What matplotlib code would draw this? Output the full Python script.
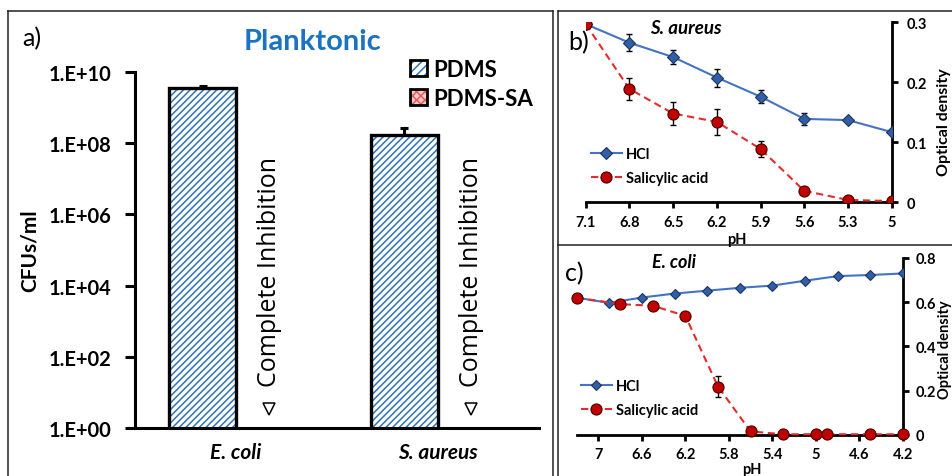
import numpy as np
import matplotlib
matplotlib.use('Agg')
import matplotlib.pyplot as plt
from matplotlib.lines import Line2D
from matplotlib.patches import Patch
from matplotlib.legend_handler import HandlerTuple

plt.rcParams['font.family'] = ['Lato', 'DejaVu Sans']
plt.rcParams['hatch.linewidth'] = 1.1

# panel a: planktonic counts (log scale)
species = ['E. coli', 'S. aureus']
pdms = [3.42e9, 1.71e8]
pdms_err = [0.43e9, 0.86e8]
pdms_sa = [0, 0]
inhib_marker = [3.5, 3.5]
a_ticks = [1e0, 1e2, 1e4, 1e6, 1e8, 1e10]
a_ticklabels = ['1.E+00', '1.E+02', '1.E+04', '1.E+06', '1.E+08', '1.E+10']

# panel b: S. aureus optical density vs pH
ph_b = ['7.1', '6.8', '6.5', '6.2', '5.9', '5.6', '5.3', '5']
hcl_b = [0.297, 0.266, 0.242, 0.208, 0.176, 0.139, 0.137, 0.117]
hcl_b_err = [0.0, 0.014, 0.012, 0.015, 0.011, 0.010, 0.003, 0.002]
sal_b = [0.297, 0.189, 0.148, 0.134, 0.089, 0.019, 0.004, 0.002]
sal_b_err = [0.0, 0.018, 0.019, 0.021, 0.013, 0.003, 0.002, 0.001]

# panel c: E. coli optical density vs pH
ph_c_hcl = [7.2, 6.9, 6.6, 6.3, 6.0, 5.7, 5.4, 5.1, 4.8, 4.5, 4.2]
hcl_c = [0.620, 0.597, 0.621, 0.639, 0.652, 0.665, 0.675, 0.697, 0.718, 0.723, 0.730]
ph_c_sal = [7.2, 6.8, 6.5, 6.2, 5.9, 5.6, 5.3, 5.0, 4.9, 4.5, 4.2]
sal_c = [0.620, 0.591, 0.584, 0.538, 0.218, 0.015, 0.002, 0.002, 0.002, 0.002, 0.002]
sal_c_err = [0, 0, 0, 0, 0.046, 0, 0, 0, 0, 0, 0]
c_ticks = [7, 6.6, 6.2, 5.8, 5.4, 5, 4.6, 4.2]
c_ticklabels = ['7', '6.6', '6.2', '5.8', '5.4', '5', '4.6', '4.2']

W, H = 952, 477
blue_hatch = '#2e75b6'
title_blue = '#1a73c2'
line_blue = '#4472c4'
dia_face = '#2f5fa8'
dia_edge = '#1f3559'
red_line = '#e52b2b'
red_face = '#c00000'
red_edge = '#4a0000'


def fx(px):
    return px / W


def fy(py):
    return 1 - py / H


fig = plt.figure(figsize=(W / 100, H / 100), dpi=100)

# panel frames
for xs, ys in [([8, 8], [477, 12]), ([8, 553], [12, 12]), ([553, 553], [12, 477]),
               ([558, 558], [477, 12]), ([558, 952], [12, 12]), ([558, 952], [246, 246])]:
    fig.add_artist(Line2D([fx(v) for v in xs], [fy(v) for v in ys],
                          transform=fig.transFigure, color='#222222', lw=1.1))

# ---------------- panel a ----------------
ax_w = 538.6 - 135
ax = fig.add_axes([fx(135), fy(429.2), ax_w / W, (429.2 - 72.7) / H])
ax.set_yscale('log')
x = np.arange(len(species))
w = 0.331

ax.bar(x - w / 2, pdms, w, color='white', edgecolor=blue_hatch, hatch='/////', lw=0, zorder=2)
ax.bar(x - w / 2, pdms, w, fill=False, edgecolor='black', lw=2.4, zorder=3)
ax.bar(x + w / 2, pdms_sa, w, color='#f4c4c4', lw=0, zorder=2)
ax.errorbar(x - w / 2, pdms, yerr=[[0, 0], pdms_err], fmt='none', ecolor='black',
            elinewidth=2.2, capsize=3, capthick=2.2, zorder=4)
ax.plot(x + w / 2, inhib_marker, 'v', ls='none', mfc='white', mec='black', ms=8, mew=1.1)
for xi in x:
    ax.text(xi + w / 2, 15, 'Complete Inhibition', rotation=90, ha='center', va='bottom',
            fontsize=18, family=['Open Sans', 'DejaVu Sans'])

ax.set_xlim(-0.5, 1.5)
ax.set_ylim(1, 1e10)
ax.set_yticks(a_ticks)
ax.set_yticklabels(a_ticklabels, fontsize=14.5, fontweight='bold')
ax.yaxis.set_minor_locator(plt.NullLocator())
ax.set_xticks(x)
ax.set_xticklabels(species, fontsize=15, fontweight='bold', style='italic')
ax.tick_params(axis='y', direction='out', length=7, width=2.2, pad=10)
ax.tick_params(axis='x', length=0, pad=10)
for s in ['top', 'right']:
    ax.spines[s].set_visible(False)
for s in ['left', 'bottom']:
    ax.spines[s].set_linewidth(2.2)
ax.set_ylabel('CFUs/ml', fontsize=15, fontweight='bold')
ax.yaxis.set_label_coords((40 - 135) / ax_w, 0.5)

h1 = (Patch(facecolor='white', edgecolor=blue_hatch, hatch='////', lw=0),
      Patch(fill=False, edgecolor='black', lw=2))
h2 = (Patch(facecolor='#f6c8c8', edgecolor='#e06060', hatch='xxxx', lw=0),
      Patch(fill=False, edgecolor='black', lw=2))
ax.legend([h1, h2], ['PDMS', 'PDMS-SA'], handler_map={tuple: HandlerTuple(ndivide=1, pad=0)},
          loc='upper left', bbox_to_anchor=(fx(410), fy(60)), bbox_transform=fig.transFigure,
          frameon=False, prop={'weight': 'bold', 'size': 16},
          handlelength=0.75, handleheight=0.75, handletextpad=0.3, labelspacing=0.35,
          borderpad=0, borderaxespad=0)

fig.text(fx(32), fy(39), 'a)', fontsize=18, ha='center', va='center')
fig.text(fx(312), fy(42.5), 'Planktonic', fontsize=21, fontweight='bold',
         color=title_blue, ha='center', va='center')


def style_od(axis, ypad):
    for s in ['top', 'left']:
        axis.spines[s].set_visible(False)
    for s in ['bottom', 'right']:
        axis.spines[s].set_linewidth(2)
    axis.yaxis.tick_right()
    axis.tick_params(axis='both', direction='out', length=4, width=2, labelsize=10.5)
    axis.tick_params(axis='y', pad=ypad)
    axis.tick_params(axis='x', pad=5)
    for lab in axis.get_xticklabels() + axis.get_yticklabels():
        lab.set_fontweight('bold')


# ---------------- panel b ----------------
bx = fig.add_axes([fx(585.7), fy(203.3), 306 / W, 180 / H])
xb = np.arange(len(ph_b))
bx.plot(xb, hcl_b, '-', color=line_blue, lw=1.5, marker='D', ms=6,
        mfc=dia_face, mec=dia_edge, mew=0.8, label='HCl', zorder=3)
bx.errorbar(xb, hcl_b, yerr=hcl_b_err, fmt='none', ecolor='black', elinewidth=1,
            capsize=2.5, capthick=1, zorder=2)
bx.plot(xb, sal_b, '--', color=red_line, lw=1.5, dashes=(3.5, 2.2), marker='o', ms=8,
        mfc=red_face, mec=red_edge, mew=0.8, label='Salicylic acid', zorder=5)
bx.errorbar(xb, sal_b, yerr=sal_b_err, fmt='none', ecolor='black', elinewidth=1,
            capsize=2.5, capthick=1, zorder=4)
bx.set_xlim(0, 7)
bx.set_ylim(0, 0.3)
bx.set_xticks(xb)
bx.set_xticklabels(ph_b)
bx.set_yticks([0, 0.1, 0.2, 0.3])
bx.set_yticklabels(['0', '0.1', '0.2', '0.3'])
style_od(bx, 7)
bx.legend(loc='upper left', bbox_to_anchor=(fx(591), fy(148)), bbox_transform=fig.transFigure,
          frameon=False, prop={'weight': 'bold', 'size': 10.5}, handlelength=2.1,
          handletextpad=0.3, labelspacing=0.7, borderpad=0, borderaxespad=0)
fig.text(fx(737), fy(240), 'pH', fontsize=10.5, fontweight='bold', ha='center', va='center')
fig.text(fx(944), fy(122.5), 'Optical density', fontsize=11.5, fontweight='bold',
         rotation=90, ha='center', va='center')
fig.text(fx(686), fy(29), 'S. aureus', fontsize=13.5, fontweight='bold', style='italic',
         ha='center', va='center')
fig.text(fx(579), fy(43), 'b)', fontsize=18, ha='center', va='center')

# ---------------- panel c ----------------
cx = fig.add_axes([fx(576.7), fy(435.7), 326 / W, 176.7 / H])
cx.plot(ph_c_hcl, hcl_c, '-', color=line_blue, lw=1.5, marker='D', ms=5.5,
        mfc=dia_face, mec=dia_edge, mew=0.8, label='HCl', zorder=3)
cx.plot(ph_c_sal, sal_c, '--', color=red_line, lw=1.5, dashes=(3.5, 2.2), marker='o', ms=8,
        mfc=red_face, mec=red_edge, mew=0.8, label='Salicylic acid', zorder=5, clip_on=False)
cx.errorbar(ph_c_sal, sal_c, yerr=sal_c_err, fmt='none', ecolor='black', elinewidth=1,
            capsize=2.5, capthick=1, zorder=4)
cx.set_xlim(7.2, 4.2)
cx.set_ylim(0, 0.8)
cx.set_xticks(c_ticks)
cx.set_xticklabels(c_ticklabels)
cx.set_yticks([0, 0.2, 0.4, 0.6, 0.8])
cx.set_yticklabels(['0', '0.2', '0.4', '0.6', '0.8'])
style_od(cx, 5)
cx.legend(loc='upper left', bbox_to_anchor=(fx(581), fy(380)), bbox_transform=fig.transFigure,
          frameon=False, prop={'weight': 'bold', 'size': 10.5}, handlelength=2.1,
          handletextpad=0.3, labelspacing=0.7, borderpad=0, borderaxespad=0)
fig.text(fx(752), fy(470), 'pH', fontsize=10.5, fontweight='bold', ha='center', va='center')
fig.text(fx(945), fy(350), 'Optical density', fontsize=10.5, fontweight='bold',
         rotation=90, ha='center', va='center')
fig.text(fx(674), fy(263), 'E. coli', fontsize=13, fontweight='bold', style='italic',
         ha='center', va='center')
fig.text(fx(574), fy(274), 'c)', fontsize=18, ha='center', va='center')

fig.savefig('out.png', dpi=100)
